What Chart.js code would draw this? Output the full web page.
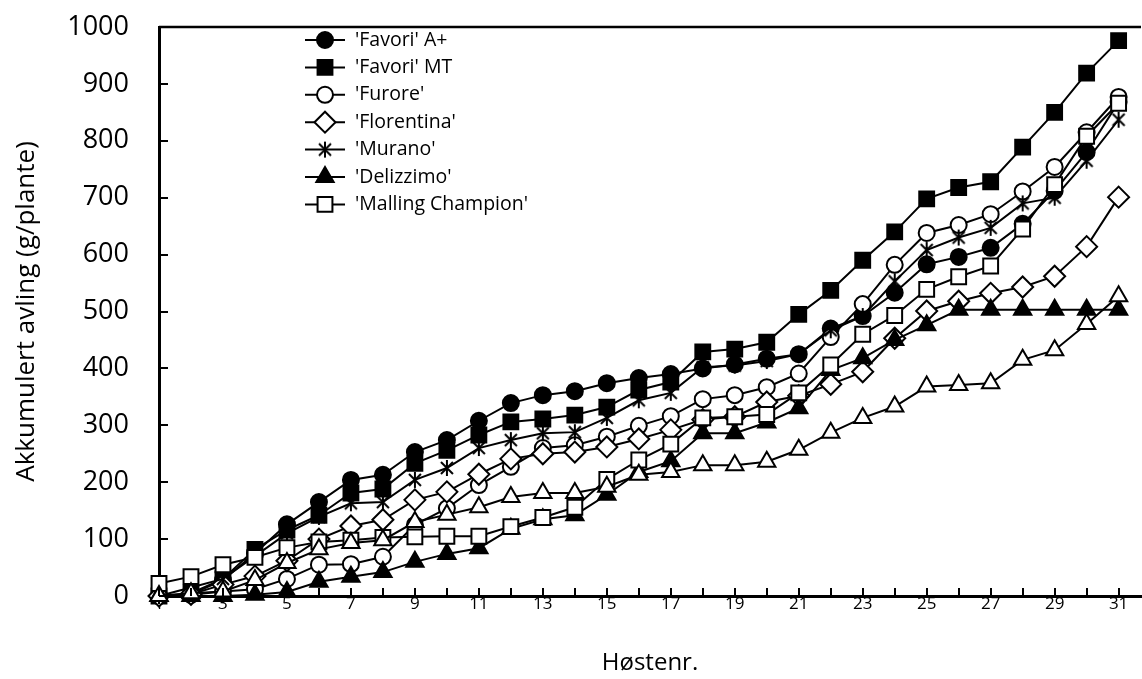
<!DOCTYPE html>
<html>
<head>
<meta charset="utf-8">
<script src="https://cdn.jsdelivr.net/npm/chart.js@4.4.1/dist/chart.umd.min.js"></script>
<style>
  html, body { margin: 0; padding: 0; background: #fff; }
  #wrap { width: 1142px; height: 679px; }
</style>
</head>
<body>
<div id="wrap"><canvas id="yieldChart" width="1142" height="679"></canvas></div>
<script>
// harvest number on the x axis
const harvestNo = [1, 2, 3, 4, 5, 6, 7, 8, 9, 10, 11, 12, 13, 14, 15, 16, 17, 18, 19, 20, 21, 22, 23, 24, 25, 26, 27, 28, 29, 30, 31]

// accumulated yield, g per plant
const favoriAplus = [0, 3, 28, 75, 126, 165, 204, 213, 253, 274, 308, 339, 353, 360, 374, 383, 390, 400, 407, 417, 425, 470, 492, 533, 583, 596, 612, 654, 712, 780, 868]
const favoriMT = [0, 5, 30, 82, 116, 142, 181, 188, 233, 256, 283, 306, 311, 318, 332, 362, 376, 429, 434, 446, 495, 537, 590, 640, 698, 718, 728, 789, 850, 919, 976]
const furore = [0, 2, 8, 12, 30, 55, 56, 69, 125, 154, 195, 227, 260, 265, 280, 299, 316, 346, 353, 367, 391, 455, 513, 582, 638, 652, 671, 711, 754, 815, 877]
const florentina = [0, 3, 20, 35, 62, 100, 123, 134, 169, 183, 214, 241, 250, 253, 262, 276, 292, 310, 315, 341, 352, 372, 394, 453, 501, 518, 532, 543, 562, 614, 701]
const murano = [0, 15, 30, 70, 110, 139, 163, 165, 204, 225, 260, 274, 286, 288, 313, 344, 357, 402, 405, 413, 425, 467, 492, 553, 608, 630, 647, 690, 700, 765, 837]
const delizzimo = [0, 0, 0, 2, 7, 25, 34, 42, 60, 74, 84, 118, 135, 142, 178, 218, 237, 286, 286, 305, 330, 397, 418, 450, 476, 503, 503, 503, 503, 503, 503]
const malling = [22, 34, 55, 68, 85, 95, 98, 103, 104, 105, 105, 122, 138, 156, 205, 239, 267, 313, 315, 319, 357, 406, 460, 493, 539, 561, 580, 645, 723, 808, 866]
const unnamed = [0, 5, 8, 28, 58, 82, 93, 98, 130, 143, 156, 174, 181, 181, 192, 213, 218, 230, 230, 236, 257, 287, 313, 333, 368, 371, 374, 415, 432, 478, 527]

const seriesNames = ["'Favori' A+", "'Favori' MT", "'Furore'", "'Florentina'", "'Murano'", "'Delizzimo'", "'Malling Champion'", ""]
const seriesValues = [favoriAplus, favoriMT, furore, florentina, murano, delizzimo, malling, unnamed]

// asterisk marker (vertical bar + X)
function makeAsterisk() {
    let c = document.createElement('canvas')
    c.width = 18
    c.height = 18
    let g = c.getContext('2d')
    g.strokeStyle = '#000'
    g.lineWidth = 2
    g.beginPath()
    g.moveTo(9, 1); g.lineTo(9, 17)
    g.moveTo(3, 3); g.lineTo(15, 15)
    g.moveTo(15, 3); g.lineTo(3, 15)
    g.stroke()
    return c
}
const asterisk = makeAsterisk()

const markers = [
    { pointStyle: 'circle', fill: '#000', radius: 8 },
    { pointStyle: 'rect', fill: '#000', radius: 10.5 },
    { pointStyle: 'circle', fill: '#fff', radius: 8 },
    { pointStyle: 'rectRot', fill: '#fff', radius: 10.5 },
    { pointStyle: asterisk, fill: '#fff', radius: 9 },
    { pointStyle: 'triangle', fill: '#000', radius: 10 },
    { pointStyle: 'rect', fill: '#fff', radius: 10.5 },
    { pointStyle: 'triangle', fill: '#fff', radius: 10 }
]

const datasets = seriesValues.map((vals, i) => ({
    label: seriesNames[i],
    data: vals.map((v, j) => ({ x: harvestNo[j], y: v })),
    borderColor: '#000',
    borderWidth: 2,
    pointStyle: markers[i].pointStyle,
    pointRadius: markers[i].radius,
    pointBackgroundColor: markers[i].fill,
    pointBorderColor: '#000',
    pointBorderWidth: 2,
    tension: 0,
    clip: false,
    order: 20 - i
}))

// inside tick marks plus the top frame line
const frameTicks = {
    id: 'frameTicks',
    afterDatasetsDraw(chart) {
        let ctx = chart.ctx
        let a = chart.chartArea
        let xs = chart.scales.x
        let ys = chart.scales.y
        ctx.save()
        ctx.strokeStyle = '#000'
        ctx.lineWidth = 2
        ctx.beginPath()
        xs.ticks.forEach(t => {
            let px = Math.round(xs.getPixelForValue(t.value))
            ctx.moveTo(px, a.bottom)
            ctx.lineTo(px, a.bottom - 8)
        })
        ys.ticks.forEach(t => {
            let py = Math.round(ys.getPixelForValue(t.value))
            ctx.moveTo(a.left, py)
            ctx.lineTo(a.left + 9, py)
        })
        ctx.stroke()
        ctx.lineWidth = 2.5
        ctx.beginPath()
        ctx.moveTo(a.left, a.top)
        ctx.lineTo(a.right, a.top)
        ctx.stroke()
        ctx.restore()
    }
}

// legend drawn inside the plot area
const innerLegend = {
    id: 'innerLegend',
    afterDraw(chart) {
        let ctx = chart.ctx
        ctx.save()
        ctx.font = '19.5px "Open Sans"'
        ctx.textBaseline = 'middle'
        ctx.fillStyle = '#000'
        let row = 0
        chart.data.datasets.forEach((ds) => {
            if (!ds.label) return
            let y = 40 + row * 27.4
            ctx.strokeStyle = '#000'
            ctx.lineWidth = 2
            ctx.beginPath()
            ctx.moveTo(305, y)
            ctx.lineTo(345, y)
            ctx.stroke()
            ctx.fillStyle = ds.pointBackgroundColor
            ctx.strokeStyle = '#000'
            Chart.helpers.drawPoint(ctx, {
                pointStyle: ds.pointStyle,
                radius: ds.pointRadius,
                rotation: 0,
                borderWidth: 2
            }, 325, y)
            ctx.fillStyle = '#000'
            ctx.fillText(ds.label, 355, y)
            row++
        })
        ctx.restore()
    }
}

new Chart(document.getElementById('yieldChart'), {
    type: 'line',
    data: { datasets: datasets },
    options: {
        responsive: false,
        animation: false,
        layout: { autoPadding: false, padding: { top: 27, right: 1, left: 0, bottom: 0 } },
        plugins: {
            legend: { display: false },
            tooltip: { enabled: false }
        },
        scales: {
            x: {
                type: 'linear',
                min: 1,
                max: 31.7,
                afterFit(scale) {
                    scale.height = 83
                    scale.paddingLeft = 0
                    scale.paddingRight = 0
                },
                border: { color: '#000', width: 3 },
                grid: { display: false, drawTicks: false },
                ticks: {
                    stepSize: 1,
                    includeBounds: false,
                    autoSkip: false,
                    maxRotation: 0,
                    padding: -2,
                    color: '#000',
                    font: { family: 'Open Sans', size: 17 },
                    callback: (v) => (v % 2 === 1 ? String(v) : '')
                },
                title: {
                    display: true,
                    text: 'Høstenr.',
                    color: '#000',
                    font: { family: 'Open Sans', size: 24 },
                    padding: { top: 0, bottom: 1 }
                }
            },
            y: {
                min: 0,
                max: 1000,
                afterFit(scale) {
                    scale.width = 159
                    scale.paddingTop = 0
                    scale.paddingBottom = 0
                },
                border: { color: '#000', width: 3 },
                grid: { display: false, drawTicks: false },
                ticks: {
                    stepSize: 100,
                    padding: 30,
                    color: '#000',
                    font: { family: 'Open Sans', size: 27 },
                    callback: (v) => String(v)
                },
                title: {
                    display: true,
                    text: 'Akkumulert avling (g/plante)',
                    color: '#000',
                    font: { family: 'Open Sans', size: 26 },
                    padding: { top: 11, bottom: 0 }
                }
            }
        }
    },
    plugins: [frameTicks, innerLegend]
})
</script>
</body>
</html>
